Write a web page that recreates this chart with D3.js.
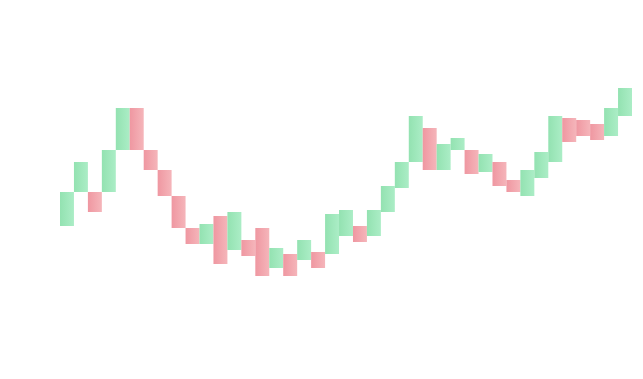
<!DOCTYPE html>
<html>
<head>
<meta charset="utf-8">
<script src="https://cdn.jsdelivr.net/npm/d3@7"></script>
<style>
  body { margin: 0; background: #fff; }
</style>
</head>
<body>
<script>
const openVals = [112.5, 121, 121, 121, 131.5, 142, 131.5, 126.5, 120, 112, 108, 115, 106.5, 109, 112, 102, 105.5, 104, 106, 105.5,
  110, 112.5, 110, 116, 122, 128.5, 137, 126.5, 131.5, 131.5, 126, 128.5, 124, 120, 124.5, 128.5, 139.5, 139, 138, 135, 140]
const closeVals = [121, 128.5, 116, 131.5, 142, 131.5, 126.5, 120, 112, 108, 113, 103, 116, 105, 100, 107, 100, 109, 102, 115.5,
  116.5, 108.5, 116.5, 122.5, 128.5, 140, 126.5, 133, 134.5, 125.5, 130.5, 122.5, 121, 126.5, 131, 140, 133.5, 135, 134, 142, 147]
const days = d3.range(openVals.length)

const w = 643
const h = 379

const svg = d3.select("body").append("svg").attr("width", w).attr("height", h)

const defs = svg.append("defs")
const grads = [
  ["up", "#93e2b1", "#abedc6"],
  ["down", "#ef97a1", "#f5b5ba"],
]
grads.forEach((g) => {
  const lg = defs.append("linearGradient").attr("id", g[0]).attr("x1", 0).attr("x2", 1).attr("y1", 0).attr("y2", 0)
  lg.append("stop").attr("offset", "0%").attr("stop-color", g[1])
  lg.append("stop").attr("offset", "100%").attr("stop-color", g[2])
})

const xScale = d3.scaleBand().domain(days).range([60, 632]).padding(0)

const yScale = d3.scaleLinear().domain([100, 147]).range([276, 88])

svg
  .selectAll("rect")
  .data(days)
  .enter()
  .append("rect")
  .attr("x", (d) => xScale(d))
  .attr("width", xScale.bandwidth())
  .attr("y", (d) => yScale(Math.max(openVals[d], closeVals[d])))
  .attr("height", (d) => Math.abs(yScale(openVals[d]) - yScale(closeVals[d])))
  .attr("fill", (d) => (closeVals[d] >= openVals[d] ? "url(#up)" : "url(#down)"))
</script>
</body>
</html>
